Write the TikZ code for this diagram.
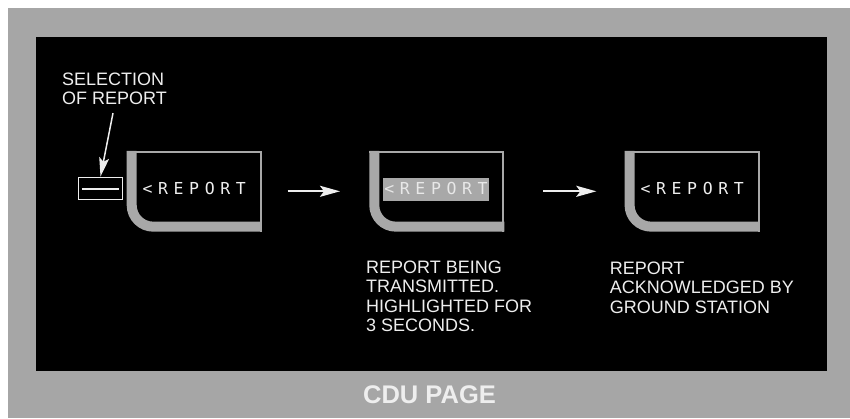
\documentclass[tikz,border=0pt]{standalone}
\usepackage{fontspec}
\setmainfont{Liberation Sans}
\newfontfamily\crtfont[LetterSpace=34]{DejaVu Sans Mono}
\usetikzlibrary{arrows.meta,positioning,calc}
\definecolor{cPanel}{HTML}{A6A6A6}
\definecolor{cBezel}{HTML}{A8A8A8}
\definecolor{cInk}{HTML}{EEEEEE}
\definecolor{cGlow}{HTML}{E8E8E8}
\tikzset{
  screen/.style  = {minimum width=135pt, minimum height=80.7pt,
                    inner sep=0pt, outer sep=0pt},
  bezelthick/.style = {draw=cBezel, line width=10pt, rounded corners=21.5pt},
  bezelthin/.style  = {draw=cBezel, line width=2pt},
  crt/.style     = {font=\fontsize{16.5}{18}\crtfont, text=cInk,
                    inner xsep=1.5pt, inner ysep=2pt,
                    text height=14.7pt, text depth=3.7pt},
  hilite/.style  = {fill=cBezel, text=cGlow},
  note/.style    = {font=\fontsize{18}{19.4}\selectfont, text=cInk,
                    align=left, inner sep=0pt},
  keybox/.style  = {draw=cInk, line width=1.5pt, minimum width=44pt,
                    minimum height=22pt, inner sep=0pt},
  flow/.style    = {draw=cInk, line width=2pt,
                    -{Stealth[length=20pt, width=11pt, inset=4pt]}},
  leader/.style  = {draw=cInk, line width=1.5pt,
                    -{Stealth[length=19pt, width=10pt, inset=4pt]}},
}
\begin{document}
\begin{tikzpicture}[x=1pt, y=-1pt]
  \useasboundingbox (0,0) rectangle (850,418);
  \fill[white] (0,0) rectangle (850,418);
  \fill[cPanel] (8,8) rectangle (850,418);
  % black page area
  \node[fill=black, minimum width=791pt, minimum height=334pt,
        inner sep=0pt, outer sep=0pt, anchor=north west] (page) at (36,37) {};
  \node[font=\fontsize{25.5}{28}\selectfont\bfseries, text=cInk,
        anchor=base] (cdu) at ($(page.south)+(-2,32.3)$) {CDU PAGE};
  % the three screens
  \node[screen] (scrA) at (194.2,191.3) {};
  \node[screen, right=107.6pt of scrA] (scrB) {};
  \node[screen, right=120.3pt of scrB] (scrC) {};
  \foreach \s in {scrA,scrB,scrC} {
    \draw[bezelthick] ($(\s.north west)+(5,0)$) -- ($(\s.south west)+(5,-5)$)
      -- ($(\s.south east)+(0,-5)$);
    \draw[bezelthin] ($(\s.north west)+(0,1)$) -- ($(\s.north east)+(-1,1)$)
      -- ($(\s.south east)+(-1,0)$);
  }
  \node[crt, anchor=base west] (repA) at ($(scrA.north west)+(14.2,44)$) {<REPORT};
  \node[crt, hilite, anchor=base west] (repB) at ($(scrB.north west)+(13.4,44)$) {<REPORT};
  \node[crt, anchor=base west] (repC) at ($(scrC.north west)+(14.3,44)$) {<REPORT};
  % captions
  \node[note, anchor=north west] (selA) at (62,72.7) {SELECTION\\OF REPORT};
  \node[note, anchor=north west] (capB) at ($(scrB.south west)+(-3.3,29)$)
    {REPORT BEING\\TRANSMITTED.\\HIGHLIGHTED FOR\\3 SECONDS.};
  \node[note, anchor=north west] (capC) at ($(scrC.south west)+(-15,30)$)
    {REPORT\\ACKNOWLEDGED BY\\GROUND STATION};
  % line select key
  \node[keybox] (keyA) at (100.5,188.3) {};
  \draw[draw=cInk, line width=1.5pt] ($(keyA.west)+(4,0.7)$) -- ($(keyA.east)+(-4,0.7)$);
  % connectors
  \draw[leader, shorten <=8pt] (selA.south) -- (keyA.north);
  \draw[flow, shorten <=26pt, shorten >=29.3pt] (scrA.east) -- (scrB.west);
  \draw[flow, shorten <=38.7pt, shorten >=28.3pt] (scrB.east) -- (scrC.west);
\end{tikzpicture}
\end{document}
